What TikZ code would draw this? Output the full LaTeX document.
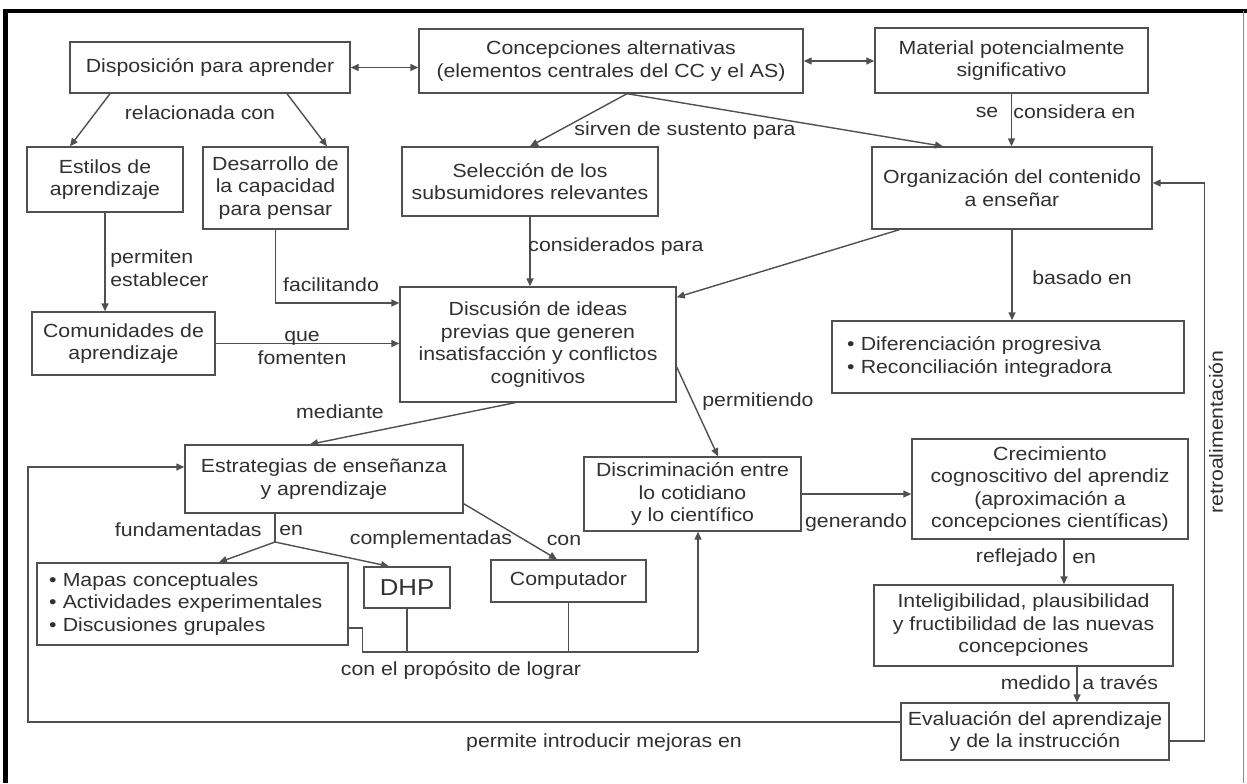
\documentclass[tikz,border=0pt]{standalone}
\usepackage{fontspec}
\setmainfont{Liberation Sans}[FakeStretch=1.12]
\usetikzlibrary{arrows.meta}
\definecolor{linec}{HTML}{505050}
\definecolor{txtc}{HTML}{303030}
\begin{document}
\begin{tikzpicture}[x=0.5pt,y=-0.5pt,
  every node/.style={font=\fontsize{9.5pt}{11.25pt}\selectfont},
  box/.style={draw=linec, line width=0.7pt, text=txtc, align=center, inner sep=0pt},
  lbl/.style={text=txtc, inner sep=0pt, align=center},
  con/.style={draw=linec, line width=0.7pt},
  arr/.style={con, -{Triangle[length=4pt,width=3.5pt]}},
  darr/.style={con, {Triangle[length=4pt,width=3.5pt]}-{Triangle[length=4pt,width=3.5pt]}}]
\useasboundingbox[fill=white] (0,0) rectangle (1247,783);
% frame
\draw[line width=2pt] (3,11) -- (1247,11);
\draw[line width=2.5pt] (5.5,10) -- (5.5,783);
\draw[black!45, line width=0.5pt] (1243,11) -- (1243,783);
% boxes
\node[box, minimum width=140pt, minimum height=25.5pt] (disp) at (210,67.5) {Disposición para aprender};
\node[box, minimum width=192pt, minimum height=32pt] (conc) at (611,61) {Concepciones alternativas\\(elementos centrales del CC y el AS)};
\node[box, minimum width=136.5pt, minimum height=32.5pt] (mat) at (1011.5,60.5) {Material potencialmente\\significativo};
\node[box, minimum width=78pt, minimum height=32.5pt] (est) at (105,179.5) {Estilos de\\aprendizaje};
\node[box, minimum width=72.5pt, minimum height=41pt] (des) at (275.5,188) {Desarrollo de\\la capacidad\\para pensar};
\node[box, minimum width=128pt, minimum height=34.5pt] (sel) at (530,181.5) {Selección de los\\subsumidores relevantes};
\node[box, minimum width=140pt, minimum height=41pt] (org) at (1012,188) {Organización del contenido\\a enseñar};
\node[box, minimum width=91.5pt, minimum height=31.5pt] (com) at (123.5,343.5) {Comunidades de\\aprendizaje};
\node[box, minimum width=138pt, minimum height=57.5pt] (dis) at (538,344.5) {Discusión de ideas\\previas que generen\\insatisfacción y conflictos\\cognitivos};
\node[box, align=left, text width=161pt, inner xsep=7.5pt, minimum height=36pt] (dif) at (1008,357) {• Diferenciación progresiva\\• Reconciliación integradora};
\node[box, minimum width=139pt, minimum height=34pt] (estr) at (324,479) {Estrategias de enseñanza\\y aprendizaje};
\node[box, minimum width=108.5pt, minimum height=37pt] (disc) at (692.5,494) {Discriminación entre\\lo cotidiano\\y lo científico};
\node[box, minimum width=138pt, minimum height=50pt] (crec) at (1050,489) {Crecimiento\\cognoscitivo del aprendiz\\(aproximación a\\concepciones científicas)};
\node[box, align=left, text width=143.5pt, inner xsep=6pt, minimum height=41pt] (map) at (192.5,604) {• Mapas conceptuales\\• Actividades experimentales\\• Discusiones grupales};
\node[box, minimum width=43pt, minimum height=20.5pt, font=\fontsize{11.5pt}{13pt}\selectfont] (dhp) at (407,587.5) {DHP};
\node[box, minimum width=77.5pt, minimum height=21pt] (comp) at (568.5,581) {Computador};
\node[box, minimum width=149.5pt, minimum height=40.5pt] (intel) at (1023.5,625.5) {Inteligibilidad, plausibilidad\\y fructibilidad de las nuevas\\concepciones};
\node[box, minimum width=134pt, minimum height=28.5pt] (eval) at (1035,731.5) {Evaluación del aprendizaje\\y de la instrucción};
% coordinates
\coordinate (fbL) at (28,722);
\coordinate (jn) at (698,652);
\coordinate (fj) at (275,542);
% connectors
\draw[darr] (disp.east) -- (disp.east -| conc.west);
\draw[darr] (conc.east) -- (conc.east -| mat.west);
\draw[arr] ([xshift=-50pt]disp.south) -- ([xshift=-17.5pt]est.north);
\draw[arr] ([xshift=38.5pt]disp.south) -- ([xshift=25.75pt]des.north);
\draw[arr] ([xshift=8pt]conc.south) -- (sel.north);
\draw[arr] ([xshift=8pt]conc.south) -- ([xshift=-34.5pt]org.north);
\draw[arr] (mat.south) -- (mat.south |- org.north);
\draw[arr] (est.south) -- (est.south |- com.north);
\draw[arr] (des.south) |- ([yshift=20.75pt]dis.west);
\draw[arr] (com.east) -- (com.east -| dis.west);
\draw[arr] (sel.south) -- (sel.south |- dis.north);
\draw[arr] ([xshift=14pt]org.south west) -- ([yshift=-5.5pt]dis.north east);
\draw[arr] (org.south) -- (org.south |- dif.north);
\draw[arr] ([xshift=-11.5pt]dis.south) -- ([xshift=-7pt]estr.north);
\draw[arr] ([yshift=-11.25pt]dis.east) -- ([xshift=12.75pt]disc.north);
\draw[arr] (disc.east) -- (disc.east -| crec.west);
\draw[arr] ([xshift=7pt]crec.south) -- ([xshift=20.25pt]intel.north);
\draw[arr] ([xshift=26.75pt]intel.south) -- ([xshift=21pt]eval.north);
\draw[arr] ([yshift=-4.75pt]eval.east) -- ++(17.5pt,0) |- ([yshift=2.5pt]org.east);
\draw[arr] ([yshift=4.75pt]eval.west) -- (fbL) |- ([yshift=6pt]estr.west);
\draw[con] (fj |- estr.south) -- (fj);
\draw[arr] (fj) -- ([xshift=13.25pt]map.north);
\draw[arr] (fj) -- ([xshift=-9pt]dhp.north);
\draw[arr] ([yshift=5pt]estr.south east) -- ([xshift=-5.75pt]comp.north);
\draw[con] ([yshift=-12pt]map.east) -- ++(7pt,0) |- (jn);
\draw[con] (dhp.south) -- (dhp.south |- jn);
\draw[con] (comp.south) -- (comp.south |- jn);
\draw[arr] (jn) -- (jn |- disc.south);
% labels
\node[lbl] (l1) at (200,113) {relacionada con};
\node[lbl] (l2) at (685,131) {sirven de sustento para};
\node[lbl] (l3) at (987,112) {se};
\node[lbl, anchor=west] (l4) at (1013,112) {considera en};
\node[lbl, anchor=west, align=left] (l5) at (110,268) {permiten\\establecer};
\node[lbl] (l6) at (331,285) {facilitando};
\node[lbl] (l7) at (302,348) {que\\fomenten};
\node[lbl, anchor=west] (l8) at (528,247) {considerados para};
\node[lbl] (l9) at (1082,278) {basado en};
\node[lbl] (l10) at (340,412) {mediante};
\node[lbl, anchor=west] (l11) at (702,402) {permitiendo};
\node[lbl] (l12) at (856,523) {generando};
\node[lbl, anchor=east] (l13) at (262,530) {fundamentadas};
\node[lbl, anchor=west] (l14) at (279,530) {en};
\node[lbl] (l15) at (431,540) {complementadas};
\node[lbl] (l16) at (564,540) {con};
\node[lbl] (l17) at (461,670) {con el propósito de lograr};
\node[lbl, anchor=east] (l18) at (1058,558) {reflejado};
\node[lbl, anchor=west] (l19) at (1072,558) {en};
\node[lbl, anchor=east] (l20) at (1071,683) {medido};
\node[lbl, anchor=west] (l21) at (1082,683) {a través};
\node[lbl] (l22) at (604,743) {permite introducir mejoras en};
\node[lbl, rotate=90] (l23) at (1216,432) {retroalimentación};
\end{tikzpicture}
\end{document}
